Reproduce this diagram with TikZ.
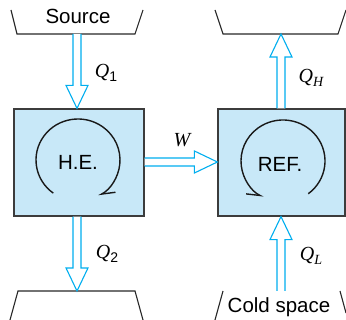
\documentclass[tikz,border=0pt]{standalone}
\usepackage{fontspec}
\setmainfont{Liberation Sans}
\newfontfamily\qf{Liberation Serif}
\usetikzlibrary{calc,arrows.meta}
\definecolor{boxblue}{RGB}{200,232,248}
\definecolor{arrcyan}{RGB}{0,174,239}
\definecolor{edgegray}{RGB}{60,60,60}
\newcommand\harr[2]{%
  \coordinate (hb) at ($(#2)!23pt!(#1)$);
  \filldraw[hollowarrow] ($(#1)!4pt!90:(#2)$) -- ($(hb)!4pt!90:(#2)$) -- ($(hb)!11pt!90:(#2)$) -- (#2) -- ($(hb)!11pt!-90:(#2)$) -- ($(hb)!4pt!-90:(#2)$) -- ($(#1)!4pt!-90:(#2)$);}
\newcommand\Qlab[1]{{\qf\itshape Q}\raisebox{-0.4ex}{\fontsize{14}{14}\selectfont #1}}
\tikzset{
  engine/.style={draw=edgegray, line width=1.2pt, fill=boxblue, minimum height=107pt, inner sep=0pt},
  hollowarrow/.style={draw=arrcyan, fill=white, line width=1.1pt, line join=miter},
  reservoir/.style={draw=black!85, line width=1.1pt},
  cyc/.style={draw=black!90, line width=1.4pt},
  lab/.style={font=\fontsize{20.5}{24}\selectfont, inner sep=0pt},
  qlab/.style={font=\fontsize{20}{24}\selectfont, inner sep=0pt},
}
\begin{document}
\begin{tikzpicture}[x=1pt,y=1pt]
\useasboundingbox (0,0) rectangle (346,320);
% engines
\node[engine, minimum width=130pt] (he) at (79,157.5) {};
\node[engine, minimum width=127pt] (ref) at (281.5,157.5) {};
\node[lab] (het) at (78,157.5) {H.E.};
\node[lab] (reft) at (280,156) {REF.};
% cycles
\coordinate (hec) at (78,160);
\coordinate (refc) at (283,159);
\draw[cyc, -{Straight Barb[harpoon,length=13pt,width=10pt]}] (hec) ++(234:42 and 41) arc[start angle=234, end angle=-61, x radius=42, y radius=41];
\draw[cyc, -{Straight Barb[harpoon,swap,length=13pt,width=10pt]}] (refc) ++(-53:42 and 41) arc[start angle=-53, end angle=242, x radius=42, y radius=41];
% reservoirs
\node[lab] (src) at (78,304) {Source};
\draw[reservoir] (11,310) -- (17,286) coordinate (srcl) -- (135,286) -- (143,310);
\draw[reservoir] (215,310) -- (223,286) -- (338,286) -- (346,310);
\draw[reservoir] (10,0) -- (18,29) -- (135,29) -- (143,0);
\node[lab] (cold) at (279,13) {Cold space};
\draw[reservoir] (215,0) -- (223,29);
\draw[reservoir] (340,29) -- (346,7);
% arrow end points
\coordinate (srcout) at (77,286);
\coordinate (hein) at (he.north -| srcout);
\coordinate (heout) at (he.south -| srcout);
\coordinate (sinkin) at (77,29);
\coordinate (hotin) at (281,286);
\coordinate (refout) at (ref.north -| hotin);
\coordinate (refin) at (ref.south -| hotin);
\coordinate (coldout) at (281,29);
\coordinate (wout) at (he.east |- 0,158);
\coordinate (win) at (ref.west |- 0,158);
% energy flows
\harr{srcout}{hein}
\harr{heout}{sinkin}
\harr{refout}{hotin}
\harr{coldout}{refin}
\harr{wout}{win}
% labels
\node[qlab] (q1) at (106,247) {\Qlab{1}};
\node[qlab] (q2) at (107,66) {\Qlab{2}};
\node[qlab] (qh) at (311,242) {\Qlab{\qf\itshape H}};
\node[qlab] (ql) at (311,64) {\Qlab{\qf\itshape L}};
\node[qlab] (w) at (182,180) {\qf\itshape W};
\end{tikzpicture}
\end{document}
